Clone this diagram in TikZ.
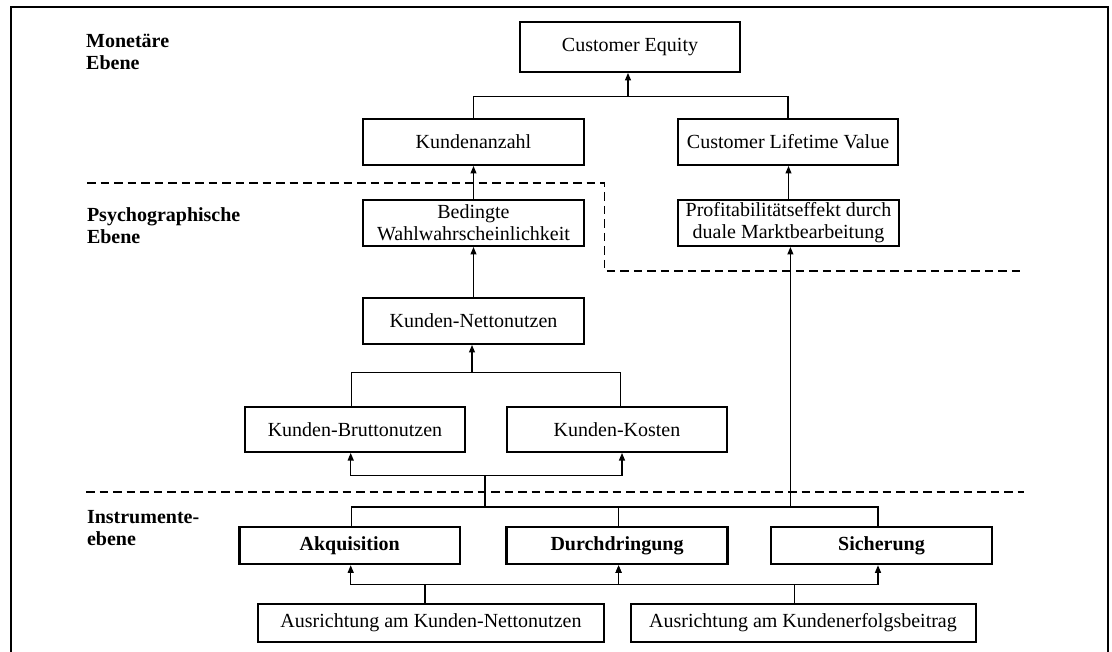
\documentclass[tikz,border=0pt]{standalone}
\usepackage{fontspec}
\setmainfont{Liberation Serif}
\usetikzlibrary{arrows.meta}
\begin{document}
\begin{tikzpicture}[x=1pt,y=-1pt,
  txt/.style={font=\fontsize{20}{22}\selectfont},
  bx/.style={txt, draw, line width=2pt, inner sep=0pt, align=center},
  ibx/.style={bx, line width=2.6pt, font=\fontsize{20}{22}\selectfont\bfseries},
  lvl/.style={font=\fontsize{20}{22}\selectfont\bfseries, align=left, inner sep=0pt, anchor=base west},
  conn/.style={line width=1.1pt},
  arr/.style={conn, -{Triangle[length=7.5pt,width=6pt]}},
  sep/.style={line width=1.9pt, dash pattern=on 8.5pt off 5pt}]
\useasboundingbox (0,0) rectangle (1112,652);

% outer frame (open at the bottom)
\draw[line width=2.2pt] (10.9,700) -- (10.9,6.7) -- (1107.6,6.7) -- (1107.6,700);

% level labels (anchored at the baseline of their last line)
\node[lvl] (lmon) at (86,69.4) {Monetäre\\Ebene};
\node[lvl] (lpsy) at (86.8,243.7) {Psychographische\\Ebene};
\node[lvl] (lins) at (86.8,545) {Instrumente-\\ebene};

% level separators
\draw[sep] (87,183.3) -- (604.5,183.3) -- (604.5,271) -- (1025,271);
\draw[sep] (86,492.3) -- (1024,492.3);

% boxes
\node[bx, minimum width=220pt, minimum height=49.5pt] (ce) at (630,47.2) {Customer Equity};
\node[bx, minimum width=221pt, minimum height=46pt] (anz) at (473.5,142) {Kundenanzahl};
\node[bx, minimum width=220pt, minimum height=46pt] (clv) at (788,142) {Customer Lifetime Value};
\node[bx, minimum width=221pt, minimum height=46pt] (bed) at (473.5,223) {Bedingte\\Wahlwahrscheinlichkeit};
\node[bx, minimum width=221pt, minimum height=46pt] (prof) at (788.5,223) {Profitabilitätseffekt durch\\duale Marktbearbeitung};
\node[bx, minimum width=221pt, minimum height=46pt] (net) at (473.5,321) {Kunden-Nettonutzen};
\node[bx, minimum width=220.5pt, minimum height=45pt] (brut) at (355,429.5) {Kunden-Bruttonutzen};
\node[bx, minimum width=220.5pt, minimum height=45pt] (kost) at (617,429.5) {Kunden-Kosten};
\node[ibx, minimum width=220.7pt, minimum height=37pt] (akq) at (349.7,545.5) {Akquisition};
\node[ibx, minimum width=220.5pt, minimum height=37pt] (dur) at (617,545.5) {Durchdringung};
\node[ibx, minimum width=221pt, minimum height=37pt] (sich) at (881.5,545.5) {Sicherung};
\node[bx, minimum width=346pt, minimum height=38pt] (ausnn) at (431,623) {Ausrichtung am Kunden-Nettonutzen};
\node[bx, minimum width=345pt, minimum height=38pt] (auskeb) at (803,623) {Ausrichtung am Kundenerfolgsbeitrag};

% junction points
\coordinate (jce) at (628,96.7);
\coordinate (jnet) at (472,372.3);
\coordinate (jbk) at (485,475.6);
\coordinate (jins) at (485,507);
\coordinate (jprof) at (790.4,507);
\coordinate (jnn) at (425,584.3);
\coordinate (jkeb) at (794.5,584.3);

% monetary level
\draw[conn] (anz.north) |- (jce) -| (clv.north);
\draw[arr] (jce) -- (jce |- ce.south);
\draw[arr] (bed.north) -- (anz.south);
\draw[arr] (prof.north) -- (prof.north |- clv.south);

% psychographic level
\draw[arr] (net.north) -- (bed.south);
\draw[conn] ([xshift=-3.3pt]brut.north) |- (jnet) -| ([xshift=3.7pt]kost.north);
\draw[arr] (jnet) -- (jnet |- net.south);
\draw[arr] (jbk) -| ([xshift=-4.3pt]brut.south);
\draw[arr] (jbk) -| ([xshift=5pt]kost.south);

% instrument level
\draw[conn] (jins) -- (jbk);
\draw[conn] ([xshift=2pt]akq.north) |- (jprof) -| ([xshift=-3.5pt]sich.north);
\draw[conn] ([xshift=1.6pt]dur.north) -- ([xshift=1.6pt]dur.north |- jins);
\draw[arr] (jprof) -- (jprof |- prof.south);

% orientation boxes
\draw[conn] (ausnn.north -| jnn) -- (jnn);
\draw[conn] (auskeb.north -| jkeb) -- (jkeb);
\draw[arr] (jnn) -| ([xshift=1pt]akq.south);
\draw[arr] (jnn) -| ([xshift=1.6pt]dur.south);
\draw[arr] (jkeb) -| ([xshift=1.6pt]dur.south);
\draw[arr] (jkeb) -| ([xshift=-3.5pt]sich.south);
\end{tikzpicture}
\end{document}
